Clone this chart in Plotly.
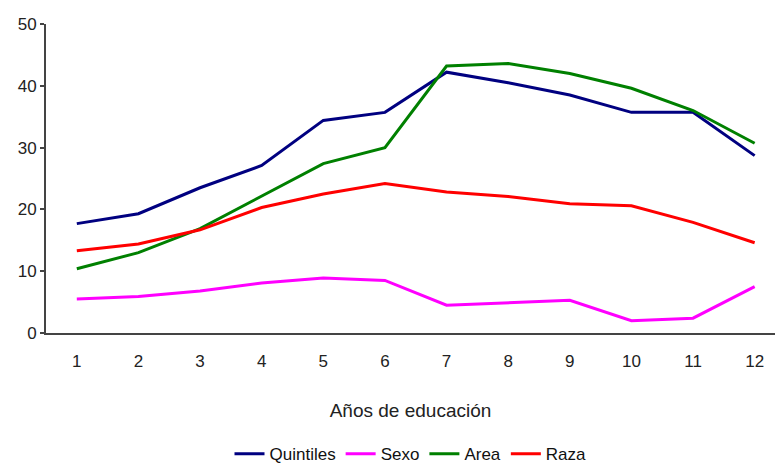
import plotly.graph_objects as go

years = [1, 2, 3, 4, 5, 6, 7, 8, 9, 10, 11, 12]
quintiles = [17.7, 19.3, 23.5, 27.1, 34.4, 35.7, 42.2, 40.5, 38.5, 35.7, 35.7, 28.7]
sexo = [5.5, 5.9, 6.8, 8.1, 8.9, 8.5, 4.5, 4.9, 5.3, 2.0, 2.4, 7.5]
area = [10.4, 13.0, 16.9, 22.2, 27.4, 30.0, 43.2, 43.6, 42.0, 39.6, 36.0, 30.7]
raza = [13.3, 14.4, 16.7, 20.3, 22.5, 24.2, 22.8, 22.1, 20.9, 20.6, 17.9, 14.6]

series = [
    ("Quintiles", quintiles, "#000080"),
    ("Sexo", sexo, "#FF00FF"),
    ("Area", area, "#008000"),
    ("Raza", raza, "#FF0000"),
]

FONT = "Liberation Sans, Arial, sans-serif"

fig = go.Figure()
for name, vals, color in series:
    fig.add_trace(go.Scatter(x=years, y=vals, name=name, mode="lines",
                             line=dict(color=color, width=3)))

fig.update_layout(
    width=775, height=468,
    margin=dict(l=46, r=0, t=24, b=135, autoexpand=False),
    paper_bgcolor="white", plot_bgcolor="white",
    font=dict(family=FONT, size=17, color="#222222"),
    showlegend=True,
    legend=dict(orientation="h", x=0.5, xanchor="center", y=-0.392, yanchor="middle",
                font=dict(family=FONT, size=17, color="#111111"),
                itemwidth=30, tracegroupgap=0),
    xaxis=dict(range=[0.5, 12.33], tickmode="array", tickvals=years,
               ticktext=[str(v) for v in years], showgrid=False, zeroline=False,
               showline=True, linecolor="#444444", linewidth=2, ticks="",
               ticklabelstandoff=12,
               title=dict(text="Años de educación", font=dict(family=FONT, size=19, color="#222222"),
                          standoff=33)),
    yaxis=dict(range=[0, 50], tickvals=[0, 10, 20, 30, 40, 50], showgrid=False,
               zeroline=False, showline=True, linecolor="#444444", linewidth=2,
               ticks="outside", ticklen=4, tickcolor="#444444", tickwidth=1.5),
)

fig.write_html("out.html")
